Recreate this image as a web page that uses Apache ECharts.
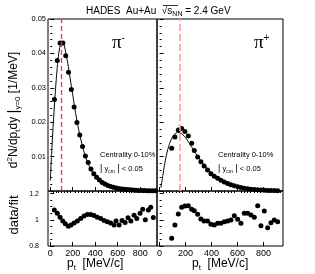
<!DOCTYPE html>
<html><head><meta charset="utf-8">
<script src="https://cdn.jsdelivr.net/npm/echarts@6/dist/echarts.min.js"></script>
<style>html,body{margin:0;padding:0;background:#fff}#c{width:315px;height:274px}</style>
</head><body><div id="c"></div>
<script>
// ---- data ----
const ptPiMinus = [37.5,62.5,87.5,112.5,137.5,162.5,187.5,212.5,237.5,262.5,287.5,312.5,337.5,362.5,387.5,412.5,437.5,462.5,487.5,512.5,537.5,562.5,587.5,612.5,637.5,662.5,687.5,712.5,737.5,762.5,787.5,812.5,837.5,862.5,887.5,912.5,937.5];
const specPiMinus = [0.0266,0.0379,0.0430,0.0430,0.0393,0.0345,0.0295,0.0244,0.0199,0.0163,0.0129,0.0102,0.0083,0.0064,0.0050,0.0040,0.0032,0.0025,0.0020,0.0016,0.0013,0.0011,0.0009,0.00075,0.0006,0.0005,0.0004,0.00033,0.00027,0.00022,0.00018,0.00015,0.00012,0.0001,0.00008,0.00006,0.00005];
const fitPtPiMinus = [0,12.5,25,37.5,50,62.5,75,87.5,100,112.5,125,137.5,150,162.5,175,187.5,200,212.5,225,250,275,300,325,350,375,400,450,500,550,600,650,700,750,800,850,900,950];
const fitPiMinus = [0.003,0.011,0.0185,0.025,0.031,0.036,0.0398,0.0422,0.0433,0.0433,0.0422,0.0404,0.0382,0.0358,0.0332,0.0306,0.028,0.0253,0.0228,0.0183,0.0146,0.0114,0.0089,0.007,0.0055,0.0043,0.0027,0.0017,0.0011,0.00075,0.0005,0.00034,0.00023,0.00016,0.00011,0.00008,0.00006];
const ratioPtPiMinus = [36,63,87,111,134,161,185,212,241,271,301,330,360,390,419,449,479,508,538,568,585,613,639,666,692,717,746,770,799,823,846,873,894,917];
const ratioPiMinus = [1.075,1.05,1.02,0.99,0.97,0.95,0.96,0.975,0.99,1.01,1.03,1.04,1.04,1.033,1.02,1.01,0.995,0.985,0.975,0.96,0.99,0.96,0.995,0.98,1.015,0.99,1.035,1.01,1.05,1.08,1.0,1.075,1.095,1.017];

const ptPiPlus = [93,118,144,170,195,221,247,267,293,318,343,369,395,421,447,472,498,524,549,575,601,626,652,678,703,729,755,780,806,832,857,883,909];
const specPiPlus = [0.0124,0.0157,0.0177,0.0182,0.0173,0.0160,0.0139,0.0118,0.0099,0.0085,0.0073,0.0061,0.0050,0.0043,0.0037,0.0031,0.0026,0.0022,0.0018,0.0015,0.0012,0.0010,0.0008,0.00066,0.00053,0.00043,0.00035,0.00028,0.00022,0.00018,0.00014,0.00011,0.00009];
const fitPtPiPlus = [10,25,37.5,50,62.5,75,87.5,100,112.5,125,137.5,150,162.5,175,187.5,200,225,250,275,300,325,350,375,400,450,500,550,600,650,700,750,800,850,900,950];
const fitPiPlus = [0.001,0.0045,0.0075,0.0100,0.0120,0.0136,0.0148,0.0157,0.0164,0.0168,0.0170,0.0170,0.0168,0.0165,0.0160,0.0155,0.0141,0.0126,0.0111,0.0097,0.0084,0.0072,0.0062,0.0053,0.0038,0.0027,0.0019,0.00135,0.00095,0.00066,0.00046,0.00032,0.00022,0.00015,0.0001];
const ratioPtPiPlus = [93,118,144,170,195,221,247,267,293,318,343,369,395,421,447,472,498,524,549,575,601,626,652,678,703,729,755,780,806,832,857,883,909];
const ratioPiPlus = [0.859,0.96,1.044,1.095,1.105,1.108,1.08,1.069,1.042,1.006,0.99,0.99,0.966,0.96,0.973,0.973,0.985,0.99,0.998,1.031,1.004,0.973,1.05,1.05,1.037,1.019,1.108,0.955,1.067,0.94,0.978,0.998,0.985];

const peakLines = [100, 155];

// tick labels / positions
const xMajor = [0,200,400,600,800];
const xMinor = [25,50,75,100,125,150,175,225,250,275,300,325,350,375,425,450,475,500,525,550,575,625,650,675,700,725,750,775,825,850,875,900,925];
const ySpecMajor = [0,0.01,0.02,0.03,0.04,0.05];
const ySpecLabels = [0.01,0.02,0.03,0.04,0.05];
const ySpecMinor = [0.002,0.004,0.006,0.008,0.012,0.014,0.016,0.018,0.022,0.024,0.026,0.028,0.032,0.034,0.036,0.038,0.042,0.044,0.046,0.048];
const yRatioMajor = [0.8,1,1.2];
const yRatioMinor = [0.85,0.9,0.95,1.05,1.1,1.15];

// ---- chart ----
const FF = 'Liberation Sans, Arial, sans-serif';
const zip = (a,b) => a.map((v,i)=>[v,b[i]]);
const G = [
  {left:48, top:19, width:109, height:172},
  {left:157, top:19, width:126, height:172},
  {left:48, top:191, width:109, height:55},
  {left:157, top:191, width:126, height:55}
];
const xAxes = [], yAxes = [];
for (let i=0;i<4;i++){
  xAxes.push({gridIndex:i,type:'value',min:-20,max:950,axisLine:{show:false},splitLine:{show:false},
    axisTick:{show:true,inside:true,length:4,customValues:xMajor,lineStyle:{color:'#000',width:1}},
    axisLabel:{show:i>=2,customValues:xMajor,fontSize:9,margin:3,color:'#000',fontFamily:FF}});
}
for (let i=0;i<4;i++){
  xAxes.push({gridIndex:i,type:'value',min:-20,max:950,axisLine:{show:false},splitLine:{show:false},
    axisTick:{show:true,inside:true,length:2,customValues:xMinor,lineStyle:{color:'#000',width:1}},
    axisLabel:{show:false}});
}
for (let i=0;i<4;i++){
  const spec = i<2;
  yAxes.push({gridIndex:i,type:'value',position:'left',min:spec?0:0.8,max:spec?0.05:1.22,
    axisLine:{show:false},splitLine:{show:false},
    axisTick:{show:true,inside:true,length:4,customValues:spec?ySpecMajor:yRatioMajor,lineStyle:{color:'#000',width:1}},
    axisLabel:{show:i===0||i===2,customValues:spec?ySpecLabels:yRatioMajor,fontSize:spec?7.5:7,margin:spec?2:9,color:'#000',fontFamily:FF,
      formatter:v=>String(+v.toFixed(3))}});
}
for (let i=0;i<4;i++){
  const spec = i<2;
  yAxes.push({gridIndex:i,type:'value',position:'left',min:spec?0:0.8,max:spec?0.05:1.22,
    axisLine:{show:false},splitLine:{show:false},
    axisTick:{show:true,inside:true,length:2,customValues:spec?ySpecMinor:yRatioMinor,lineStyle:{color:'#000',width:1}},
    axisLabel:{show:false}});
}
const dot = (xi, data) => ({type:'scatter',xAxisIndex:xi,yAxisIndex:xi,data,symbolSize:5,clip:false,
  itemStyle:{color:'#000',opacity:1},z:4,silent:true});
const fit = (xi, data, peak, col, dash, w) => ({type:'line',xAxisIndex:xi,yAxisIndex:xi,data,showSymbol:false,symbol:'none',
  smooth:0.2,lineStyle:{color:'#000',width:1},z:3,silent:true,
  markLine:{silent:true,symbol:['none','none'],label:{show:false},animation:false,
    lineStyle:{color:col,type:dash,width:w,opacity:1},data:[{xAxis:peak}]}});

const rich = {
  a:{fontSize:12,fontFamily:FF,fill:'#000',lineHeight:16},
  sup:{fontSize:8,fontFamily:FF,fill:'#000',verticalAlign:'top'},
  sub:{fontSize:8,fontFamily:FF,fill:'#000',verticalAlign:'bottom'},
  bar:{fontSize:15,fontFamily:FF,fill:'#000'}
};
const smallRich = {
  a:{fontSize:7.5,fontFamily:FF,fill:'#000',lineHeight:10},
  sub:{fontSize:5,fontFamily:FF,fill:'#000',verticalAlign:'bottom'},
  bar:{fontSize:9,fontFamily:FF,fill:'#000'}
};
const titleRich = {
  a:{fontSize:10,fontFamily:FF,fill:'#000',lineHeight:13},
  sub:{fontSize:7,fontFamily:FF,fill:'#000',verticalAlign:'bottom'}
};
const piRich = {
  p:{fontSize:19,fontFamily:'Liberation Serif, serif',fill:'#000',lineHeight:19},
  s:{fontSize:10,fontFamily:FF,fill:'#000',verticalAlign:'top'}
};
const axRich = {
  a:{fontSize:12,fontFamily:FF,fill:'#000',lineHeight:15},
  sub:{fontSize:8,fontFamily:FF,fill:'#000',verticalAlign:'bottom'}
};
const txt = (x,y,text,r,extra) => Object.assign({type:'text',x,y,silent:true,
  style:{text,rich:r,fill:'#000',align:'left',verticalAlign:'middle'}},extra||{});
const yTitle = '{a|d}{sup|2}{a|N/dp}{sub|t}{a|dy }{bar||}{sub|y=0}{a| [1/MeV]}';
const rTitleRich = {a:{fontSize:13,fontFamily:FF,fill:'#000'}};

const graphic = [
  txt(86,11,'{a|HADES  Au+Au  √}{a|s}{sub|NN}{a| = 2.4 GeV}',titleRich),
  {type:'line',silent:true,shape:{x1:163,y1:5.5,x2:178,y2:5.5},style:{stroke:'#000',lineWidth:0.8}},
  txt(112,43,'{p|π}{s|-}',piRich),
  txt(254,43,'{p|π}{s|+}',piRich),
  txt(100,155,'{a|Centrality 0-10%}',smallRich),
  txt(100,169,'{bar||}{a| y}{sub|cm}{bar| |}{a| < 0.05}',smallRich),
  txt(218,155,'{a|Centrality 0-10%}',smallRich),
  txt(218,169,'{bar||}{a| y}{sub|cm}{bar| |}{a| < 0.05}',smallRich),
  txt(67,264,'{a|p}{sub|t}{a|  [MeV/c]}',axRich),
  txt(192,264,'{a|p}{sub|t}{a|  [MeV/c]}',axRich),
  {type:'text',x:14,y:110,rotation:Math.PI/2,silent:true,style:{text:yTitle,rich,fill:'#000',align:'center',verticalAlign:'middle'}},
  {type:'text',x:14,y:215,rotation:Math.PI/2,silent:true,style:{text:'{a|data/fit}',rich:rTitleRich,fill:'#000',align:'center',verticalAlign:'middle'}}
];

const chart = echarts.init(document.getElementById('c'),null,{renderer:'canvas'});
chart.setOption({
  animation:false,
  backgroundColor:'#fff',
  grid:G.map(g=>Object.assign({show:true,borderColor:'#000',borderWidth:1,backgroundColor:'transparent',containLabel:false},g)),
  xAxis:xAxes, yAxis:yAxes,
  series:[
    fit(0, zip(fitPtPiMinus,fitPiMinus), peakLines[0], '#e83a3a', [5,3], 1.3),
    dot(0, zip(ptPiMinus,specPiMinus)),
    fit(1, zip(fitPtPiPlus,fitPiPlus), peakLines[1], '#ff9a9a', [7,3], 1.6),
    dot(1, zip(ptPiPlus,specPiPlus)),
    dot(2, zip(ratioPtPiMinus,ratioPiMinus)),
    dot(3, zip(ratioPtPiPlus,ratioPiPlus))
  ],
  graphic:graphic
});
</script></body></html>
